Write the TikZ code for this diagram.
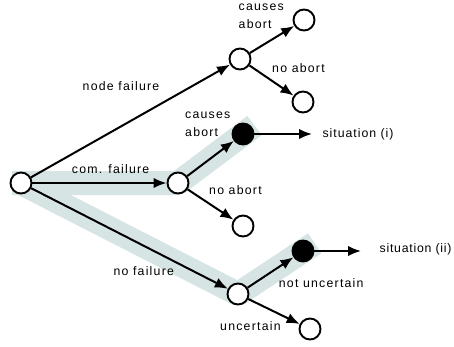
\documentclass[tikz,border=0pt]{standalone}
\usepackage{fontspec}
\setmainfont{Liberation Sans}[LetterSpace=10]
\usetikzlibrary{arrows.meta}
\definecolor{bandc}{RGB}{214,228,228}
\begin{document}
\begin{tikzpicture}[x=1pt,y=-1pt,
  st/.style={circle,draw=black,fill=white,line width=1.9pt,minimum size=21pt,inner sep=0pt},
  blk/.style={st,fill=black},
  arr/.style={line width=2pt,-{Latex[length=13pt,width=10.5pt]}},
  band/.style={line width=24pt,draw=bandc,line join=bevel,line cap=butt},
  lbl/.style={anchor=base west,inner sep=0pt,font=\fontsize{12.3}{15}\selectfont},
  sitlbl/.style={lbl,font=\fontsize{12.3}{15}\selectfont\addfontfeature{LetterSpace=#1}}]
\useasboundingbox (0,0) rectangle (454,346);
% highlight bands
\coordinate (b1s) at (12,183);
\coordinate (b2s) at (21,183);
\coordinate (b1m) at (178,183);
\coordinate (b1e) at (254.5,125.5);
\coordinate (b2m) at (238,294);
\coordinate (b2e) at (314.7,243.3);
\path[band] (b1s) -- (b1m) -- (b1e);
\path[band] (b2s) -- (b2m) -- (b2e);
% states
\node[st] (root) at (21,183) {};
\node[st] (nf) at (240,59) {};
\node[st] (nfa) at (304,20) {};
\node[st] (nfn) at (303,102) {};
\node[st] (cf) at (178,183) {};
\node[blk] (cfa) at (243,134) {};
\node[st] (cfn) at (243,226) {};
\node[st] (nof) at (238,294) {};
\node[blk] (nnu) at (303,251) {};
\node[st] (nun) at (310,329) {};
\coordinate (s1) at (312,134);
\coordinate (s2) at (361,251);
% connectors
\draw[arr] (root) -- (nf);
\draw[arr] (root) -- (cf);
\draw[arr] (root) -- (nof);
\draw[arr] (nf) -- (nfa);
\draw[arr] (nf) -- (nfn);
\draw[arr] (cf) -- (cfa);
\draw[arr] (cf) -- (cfn);
\draw[arr] (nof) -- (nnu);
\draw[arr] (nof) -- (nun);
\draw[arr] (cfa) -- (s1);
\draw[arr] (nnu) -- (s2);
% labels
\node[lbl] (l1) at (238.5,10) {causes};
\node[lbl] (l2) at (238.5,28.3) {abort};
\node[lbl] (l3) at (272,72.5) {no abort};
\node[lbl] (l4) at (82.5,90.5) {node failure};
\node[lbl] (l5) at (185,118.5) {causes};
\node[lbl] (l6) at (185,136.5) {abort};
\node[sitlbl=8] (l7) at (322.3,137) {situation (i)};
\node[lbl] (l8) at (71.7,173) {com. failure};
\node[lbl] (l9) at (209,194.5) {no abort};
\node[sitlbl=6] (l10) at (379.5,252) {situation (ii)};
\node[lbl] (l11) at (113.3,275.5) {no failure};
\node[lbl] (l12) at (278.7,287.3) {not uncertain};
\node[lbl] (l13) at (220,330.5) {uncertain};
\end{tikzpicture}
\end{document}
